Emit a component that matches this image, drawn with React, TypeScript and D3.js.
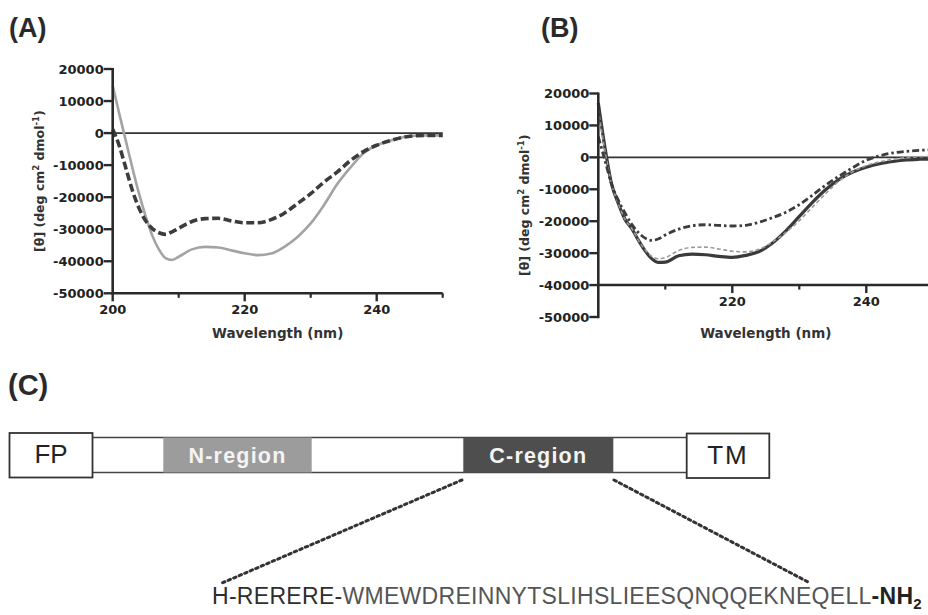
import * as d3 from "d3";

// wavelength grid (nm) shared by all CD traces
const WAVELENGTHS = [
  200, 201, 202, 203, 204, 205, 206, 207, 208, 209, 210, 212, 214, 216, 218,
  220, 222, 224, 226, 228, 230, 232, 234, 236, 238, 240, 242, 244, 246, 248, 250,
];

// panel A, mean residue ellipticity (deg cm2 dmol-1)
const A_GREY = [
  14800, 6000, -2500, -11000, -19000, -26000, -32000, -36300, -39000, -39600,
  -38600, -36300, -35500, -35700, -36600, -37500, -38100, -37600, -35500,
  -32400, -28200, -22500, -16000, -10800, -6300, -3800, -2400, -1300, -800,
  -700, -700,
];
const A_DASHED = [
  1200, -4000, -11000, -18000, -23500, -27400, -29800, -31100, -31600, -30800,
  -29700, -27600, -26700, -26600, -27400, -28000, -28000, -27000, -25000,
  -22000, -18900, -15300, -12200, -8600, -5800, -3800, -2400, -1300, -800,
  -700, -700,
];

// panel B
const B_SOLID = [
  17000, 3000, -8500, -14500, -19500, -22300, -26000, -29300, -31800, -32900,
  -32800, -30800, -30300, -30500, -31000, -31300, -30700, -29500, -26800,
  -23000, -18500, -14000, -10000, -6800, -4600, -3100, -2000, -1300, -800,
  -600, -500,
];
const B_GREY = [
  15000, 2000, -8500, -14500, -19500, -22300, -26000, -29000, -31000, -31800,
  -31400, -29200, -28200, -28100, -28700, -29400, -29600, -28800, -26500,
  -23500, -19800, -15500, -11200, -7300, -4500, -2600, -1400, -600, -100,
  200, 300,
];
const B_DASHDOT = [
  6500, -1000, -8500, -13500, -17500, -21000, -23600, -25300, -26000, -25500,
  -24300, -22500, -21400, -21100, -21300, -21500, -21300, -20300, -18900,
  -17200, -14800, -11800, -8600, -5800, -3200, -900, 500, 1400, 1900, 2200,
  2400,
];

const Y_TICKS = [20000, 10000, 0, -10000, -20000, -30000, -40000, -50000];
const X_MAJOR_A = [200, 220, 240];
const X_MAJOR_B = [220, 240];
const X_MINOR = [210, 230, 250];

const SEQ_HEAD = "H-RERERE-";
const SEQ_BODY = "WMEWDREINNYTSLIHSLIEESQNQQEKNEQELL";
const SEQ_TAIL = "-NH";

const TICK_FONT = "'DejaVu Sans', Verdana, sans-serif";
const TITLE_FONT = "'Liberation Sans', Arial, sans-serif";
const INK = "#2a2a2a";

type Series = { values: number[]; stroke: string; width: number; dash?: string };

type PanelProps = {
  left: number;
  right: number;
  top: number;
  bottom: number;
  xAxisValue: number;
  xMajor: number[];
  series: Series[];
  yLabelX: number;
  xLabelY: number;
};

function CdPanel({ left, right, top, bottom, xAxisValue, xMajor, series, yLabelX, xLabelY }: PanelProps) {
  const x = d3.scaleLinear().domain([200, 250]).range([left, right]);
  const y = d3.scaleLinear().domain([-50000, 20000]).range([bottom, top]);
  const line = d3
    .line<number>()
    .x((_, i) => x(WAVELENGTHS[i]))
    .y((d) => y(d))
    .curve(d3.curveMonotoneX);

  const axisY = y(xAxisValue);
  const midY = (top + bottom) / 2;

  return (
    <g>
      {/* zero reference */}
      <line x1={x(200)} x2={x(250)} y1={y(0)} y2={y(0)} stroke="#333" strokeWidth={1.6} />

      {series.map((s, i) => (
        <path
          key={i}
          d={line(s.values) ?? ""}
          fill="none"
          stroke={s.stroke}
          strokeWidth={s.width}
          strokeDasharray={s.dash}
          strokeLinejoin="round"
        />
      ))}

      {/* y axis */}
      <line x1={left} x2={left} y1={top - 1} y2={bottom + 1.2} stroke={INK} strokeWidth={2.6} />
      {Y_TICKS.map((t) => (
        <g key={t}>
          <line x1={left - 9} x2={left} y1={y(t)} y2={y(t)} stroke={INK} strokeWidth={2.4} />
          <text
            x={left - 9}
            y={y(t)}
            dy="0.36em"
            textAnchor="end"
            fontFamily={TICK_FONT}
            fontWeight="bold"
            fontSize={13}
            fill="#222"
          >
            {t}
          </text>
        </g>
      ))}

      {/* x axis */}
      <line x1={left} x2={right} y1={axisY} y2={axisY} stroke={INK} strokeWidth={2.6} />
      {xMajor.map((t) => (
        <g key={t}>
          <line x1={x(t)} x2={x(t)} y1={axisY} y2={axisY + 8} stroke={INK} strokeWidth={2.4} />
          <text
            x={x(t)}
            y={axisY + 21}
            textAnchor="middle"
            fontFamily={TICK_FONT}
            fontWeight="bold"
            fontSize={13}
            fill="#222"
          >
            {t}
          </text>
        </g>
      ))}
      {X_MINOR.map((t) => (
        <line key={t} x1={x(t)} x2={x(t)} y1={axisY} y2={axisY + 4.5} stroke={INK} strokeWidth={2.2} />
      ))}

      <text
        x={(left + right) / 2}
        y={xLabelY}
        textAnchor="middle"
        fontFamily={TICK_FONT}
        fontWeight="bold"
        fontSize={13.5}
        fill="#333"
      >
        Wavelength (nm)
      </text>

      <text
        transform={`translate(${yLabelX},${midY}) rotate(-90)`}
        textAnchor="middle"
        fontFamily={TICK_FONT}
        fontWeight="bold"
        fontSize={12.5}
        fill="#333"
      >
        [θ] (deg cm
        <tspan dy={-5} fontSize={8.5}>2</tspan>
        <tspan dy={5}> dmol</tspan>
        <tspan dy={-5} fontSize={8.5}>-1</tspan>
        <tspan dy={5}>)</tspan>
      </text>
    </g>
  );
}

export default function App() {
  const barTop = 437.5;
  const barBottom = 472.5;
  const barH = barBottom - barTop;

  return (
    <svg
      width={928}
      height={615}
      style={{ position: "absolute", left: 0, top: 0, background: "#fff" }}
    >
      <rect width={928} height={615} fill="#fff" />

      <text x={9} y={37} fontFamily={TITLE_FONT} fontWeight="bold" fontSize={27} fill={INK}>
        (A)
      </text>
      <text x={541} y={37} fontFamily={TITLE_FONT} fontWeight="bold" fontSize={27} fill={INK}>
        (B)
      </text>
      <text x={8} y={395} fontFamily={TITLE_FONT} fontWeight="bold" fontSize={29} fill={INK}>
        (C)
      </text>

      <CdPanel
        left={112.7}
        right={442.7}
        top={69}
        bottom={293.3}
        xAxisValue={-50000}
        xMajor={X_MAJOR_A}
        yLabelX={44}
        xLabelY={338}
        series={[
          { values: A_GREY, stroke: "#a3a3a3", width: 2.6 },
          { values: A_DASHED, stroke: "#3c3c3c", width: 3.6, dash: "8,3.5" },
        ]}
      />

      <CdPanel
        left={598.3}
        right={933.3}
        top={93.5}
        bottom={317}
        xAxisValue={-40000}
        xMajor={X_MAJOR_B}
        yLabelX={529}
        xLabelY={338}
        series={[
          { values: B_SOLID, stroke: "#3a3a3a", width: 3.2 },
          { values: B_GREY, stroke: "#9a9a9a", width: 1.6, dash: "4,2.5" },
          { values: B_DASHDOT, stroke: "#3c3c3c", width: 2.8, dash: "7,3,2.5,3" },
        ]}
      />

      {/* panel C: domain schematic */}
      <line x1={92} x2={687} y1={barTop} y2={barTop} stroke="#444" strokeWidth={1.6} />
      <line x1={92} x2={687} y1={barBottom} y2={barBottom} stroke="#444" strokeWidth={1.6} />
      <rect x={163.3} y={barTop} width={148.4} height={barH} fill="#9c9c9c" />
      <rect x={463.3} y={barTop} width={150} height={barH} fill="#4e4e4e" />
      <rect x={9.5} y={433} width={83} height={44.5} fill="#fff" stroke="#333" strokeWidth={1.8} />
      <rect x={686.7} y={433.5} width={82.6} height={44.5} fill="#fff" stroke="#333" strokeWidth={1.8} />

      <text x={51} y={463} textAnchor="middle" fontFamily={TITLE_FONT} fontSize={26} fill="#222">
        FP
      </text>
      <text
        x={728}
        y={463.5}
        textAnchor="middle"
        fontFamily={TITLE_FONT}
        fontSize={26}
        letterSpacing={2}
        fill="#222"
      >
        TM
      </text>
      <text
        x={237.5}
        y={463}
        textAnchor="middle"
        fontFamily={TITLE_FONT}
        fontWeight="bold"
        fontSize={21.5}
        letterSpacing={1.2}
        fill="#f4f4f4"
      >
        N-region
      </text>
      <text
        x={538.3}
        y={463}
        textAnchor="middle"
        fontFamily={TITLE_FONT}
        fontWeight="bold"
        fontSize={21.5}
        letterSpacing={1.2}
        fill="#f4f4f4"
      >
        C-region
      </text>

      {/* dotted callout lines */}
      <line
        x1={462}
        y1={480}
        x2={222}
        y2={583}
        stroke="#333"
        strokeWidth={3}
        strokeDasharray="2.5,3.5"
        strokeLinecap="round"
      />
      <line
        x1={614}
        y1={480}
        x2={810}
        y2={583}
        stroke="#333"
        strokeWidth={3}
        strokeDasharray="2.5,3.5"
        strokeLinecap="round"
      />

      <text x={212} y={604} fontFamily={TITLE_FONT} fontSize={23} letterSpacing={0.3} fill="#444">
        <tspan fill="#2e2e2e">{SEQ_HEAD}</tspan>
        <tspan fill="#555">{SEQ_BODY}</tspan>
        <tspan fill="#222" fontWeight="bold">{SEQ_TAIL}</tspan>
        <tspan fill="#222" fontWeight="bold" fontSize={15} dy={5}>2</tspan>
      </text>
    </svg>
  );
}
